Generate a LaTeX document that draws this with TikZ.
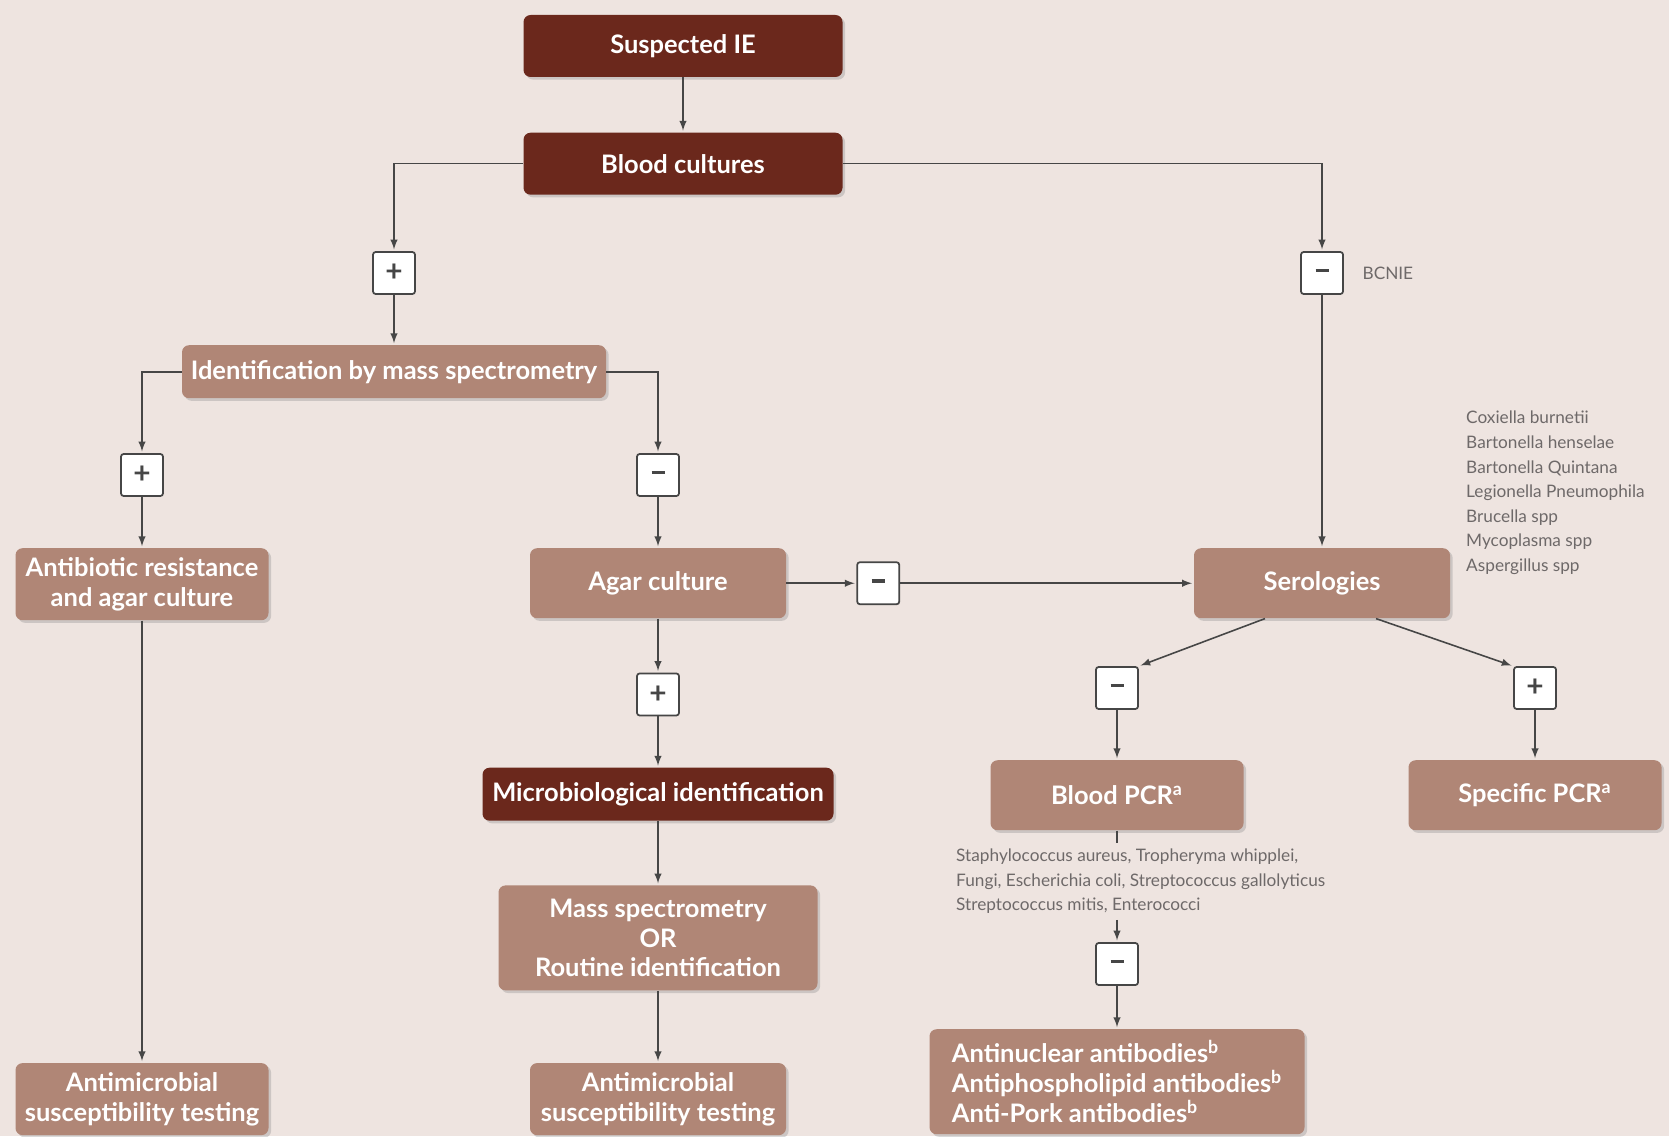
\documentclass[tikz,border=0pt]{standalone}
\usepackage{fontspec}
\setmainfont{Lato}
\usetikzlibrary{shapes,arrows,positioning,shadows,calc}
\definecolor{iedark}{RGB}{107,40,28}
\definecolor{ielight}{RGB}{176,134,118}
\definecolor{iebg}{RGB}{238,228,224}
\definecolor{ieline}{RGB}{70,70,70}
\definecolor{ienote}{RGB}{110,105,105}
\newcommand{\negsign}{\rule[0.3ex]{0.26cm}{2pt}}

\begin{document}
\begin{tikzpicture}[
    darkbox/.style={rectangle, fill=iedark, text=white, align=center, rounded corners=4pt, minimum height=1.24cm, minimum width=6.38cm, font=\fontsize{14.5}{17}\selectfont\bfseries, drop shadow={shadow xshift=1.5pt, shadow yshift=-1.5pt, opacity=0.3}},
    lightbox/.style={darkbox, fill=ielight},
    signbox/.style={rectangle, draw=ieline, line width=1pt, fill=white, minimum size=0.84cm, inner sep=0pt, rounded corners=1.5pt, font=\fontsize{17}{17}\selectfont\bfseries, text=ieline},
    arrow/.style={->, >=latex, line width=0.9pt, draw=ieline, shorten >=1pt},
    link/.style={line width=0.9pt, draw=ieline},
    note/.style={font=\fontsize{9.8}{14}\selectfont, text=ienote, align=left}
]
\fill[iebg] (0,0) rectangle (33.38,-22.72);
\useasboundingbox (0,0) rectangle (33.38,-22.72);

\node[darkbox] (suspected) at (13.66,-0.92) {Suspected IE};
\node[darkbox, below=1.1cm of suspected] (blood) {Blood cultures};
\node[signbox] (bcpos) at (7.88,-5.46) {+};
\node[signbox] (bcneg) at (26.44,-5.46) {\negsign};
\node[note, right=0.25cm of bcneg] (bcnie) {BCNIE};
\node[lightbox, minimum width=8.48cm, minimum height=1.06cm, below=1cm of bcpos] (ident) {Identification by mass spectrometry};

\node[signbox] (idpos) at (2.84,-9.5) {+};
\node[signbox] (idneg) at (13.16,-9.5) {\negsign};
\node[lightbox, minimum width=5.06cm, minimum height=1.44cm, below=1.02cm of idpos] (antires) {Antibiotic resistance\\and agar culture};
\node[lightbox, minimum width=5.12cm, minimum height=1.4cm, below=1.02cm of idneg] (agar) {Agar culture};
\node[signbox, right=1.4cm of agar] (agarneg) {\negsign};
\node[lightbox, minimum width=5.12cm, minimum height=1.4cm] (serol) at (bcneg |- agar) {Serologies};
\node[note, anchor=north west] (zoonoses) at (29.2,-8.1) {Coxiella burnetii\\Bartonella henselae\\Bartonella Quintana\\Legionella Pneumophila\\Brucella spp\\Mycoplasma spp\\Aspergillus spp};

\node[signbox, below=1.08cm of agar] (agarpos) {+};
\node[darkbox, minimum width=7.02cm, minimum height=1.06cm, below=1.02cm of agarpos] (micro) {Microbiological identification};
\node[lightbox, minimum height=2.1cm, below=1.28cm of micro] (massspec) {Mass spectrometry\\OR\\Routine identification};
\node[lightbox, minimum width=5.12cm, minimum height=1.44cm, below=1.44cm of massspec] (amstmid) {Antimicrobial\\susceptibility testing};
\node[lightbox, minimum width=5.06cm, minimum height=1.44cm] (amstleft) at (antires |- amstmid) {Antimicrobial\\susceptibility testing};

\node[signbox] (serneg) at (22.34,-13.76) {\negsign};
\node[signbox] (serpos) at (30.7,-13.76) {+};
\node[lightbox, minimum width=5.06cm, minimum height=1.4cm, below=1cm of serneg] (bpcr) {Blood PCR\textsuperscript{a}};
\node[lightbox, minimum width=5.06cm, minimum height=1.4cm] (spcr) at (serpos |- bpcr) {Specific PCR\textsuperscript{a}};
\node[note, anchor=north west] (pcrnote) at (19.0,-16.85) {Staphylococcus aureus, Tropheryma whipplei,\\Fungi, Escherichia coli, Streptococcus gallolyticus\\Streptococcus mitis, Enterococci};
\node[signbox] (pcrneg) at (22.34,-19.28) {\negsign};
\node[lightbox, minimum width=7.5cm, minimum height=2.1cm, align=left, below=0.86cm of pcrneg] (antibod) {Antinuclear antibodies\textsuperscript{b}\\Antiphospholipid antibodies\textsuperscript{b}\\Anti-Pork antibodies\textsuperscript{b}};

\draw[arrow] (suspected) -- (blood);
\draw[arrow] (blood.west) -| (bcpos.north);
\draw[arrow] (blood.east) -| (bcneg.north);
\draw[arrow] (bcpos) -- (bcpos |- ident.north);
\draw[arrow] (bcneg) -- (bcneg |- serol.north);
\draw[arrow] (ident.west) -| (idpos.north);
\draw[arrow] (ident.east) -| (idneg.north);
\draw[arrow] (idpos) -- (idpos |- antires.north);
\draw[arrow] (idneg) -- (agar);
\draw[arrow] (antires) -- (amstleft);
\draw[arrow] (agar) -- (agarneg);
\draw[arrow] (agarneg) -- (serol);
\draw[arrow] (agar) -- (agarpos);
\draw[arrow] (agarpos) -- (micro);
\draw[arrow] (micro) -- (massspec);
\draw[arrow] (massspec) -- (amstmid);
\draw[arrow] ([xshift=-1.14cm]serol.south) -- (serneg.north east);
\draw[arrow] ([xshift=1.08cm]serol.south) -- (serpos.north west);
\draw[arrow] (serneg) -- (bpcr);
\draw[arrow] (serpos) -- (serpos |- spcr.north);
\draw[link] (bpcr.south) -- (bpcr.south |- pcrnote.north);
\draw[arrow] (bpcr.south |- pcrnote.south) -- (pcrneg);
\draw[arrow] (pcrneg) -- (antibod);
\end{tikzpicture}
\end{document}
